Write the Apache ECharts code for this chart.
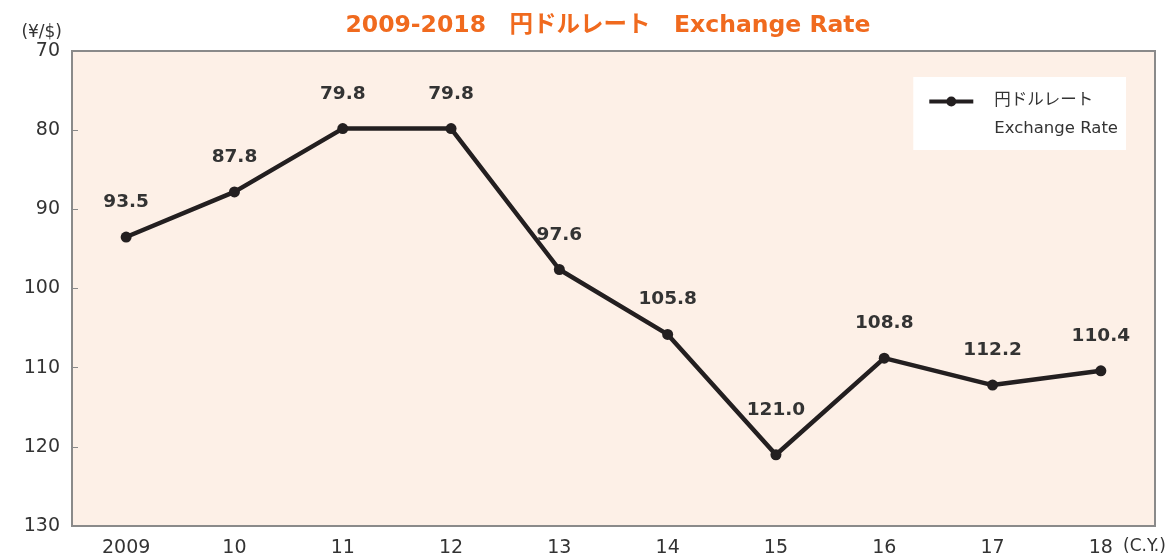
<!DOCTYPE html>
<html>
<head>
<meta charset="utf-8">
<script src="https://cdn.jsdelivr.net/npm/echarts@6/dist/echarts.min.js"></script>
<style>
  html, body { margin: 0; padding: 0; background: #fff; }
  #chart { width: 1175px; height: 560px; }
</style>
</head>
<body>
<div id="chart"></div>
<script>
  // yen per dollar, calendar year averages
  const years = ['2009', '10', '11', '12', '13', '14', '15', '16', '17', '18'];
  const rates = [93.5, 87.8, 79.8, 79.8, 97.6, 105.8, 121.0, 108.8, 112.2, 110.4];
  const yTicks = [70, 80, 90, 100, 110, 120, 130];

  const font = 'Verdana, "DejaVu Sans", "Noto Sans CJK JP", sans-serif';

  // legend marker: line + dot, drawn level with the first text line
  const legendIcon = 'path://M0,0.5 L17.5,0.5 L17.5,4.5 L0,4.5 Z M26.5,0.5 L44,0.5 L44,4.5 L26.5,4.5 Z '
    + 'M17,2.5 A5,5 0 1,1 27,2.5 A5,5 0 1,1 17,2.5 Z M0,34.5 L0.01,34.5 Z';

  const chart = echarts.init(document.getElementById('chart'));
  chart.setOption({
    animation: false,
    backgroundColor: '#ffffff',
    textStyle: { fontFamily: font },
    title: {
      text: '2009-2018　円ドルレート　Exchange Rate',
      left: 603,
      textAlign: 'center',
      top: 9,
      textStyle: { color: '#F06A1E', fontSize: 23.5, fontWeight: 'bold', fontFamily: font },
    },
    legend: {
      right: 49,
      top: 77,
      orient: 'vertical',
      backgroundColor: '#ffffff',
      padding: [10, 8, 7, 16],
      icon: legendIcon,
      itemWidth: 44,
      itemHeight: 37,
      itemGap: 0,
      textStyle: { color: '#333', fontSize: 16.5, lineHeight: 28, padding: [0, 0, 0, 16], fontFamily: font },
      data: [{ name: '円ドルレート\nExchange Rate' }],
    },
    grid: {
      left: 72,
      right: 20,
      top: 51,
      bottom: 34,
      outerBoundsMode: 'none',
      containLabel: false,
      show: true,
      backgroundColor: '#FDF0E7',
      borderColor: '#8a8a8a',
      borderWidth: 2,
    },
    xAxis: {
      type: 'category',
      data: years,
      boundaryGap: true,
      name: '(C.Y.)',
      nameLocation: 'end',
      nameGap: -32,
      nameTextStyle: { color: '#333', fontSize: 17, verticalAlign: 'top', padding: [12, 0, 0, 0] },
      axisLine: { show: false },
      axisTick: { show: false },
      axisLabel: { color: '#333', fontSize: 19, margin: 13 },
    },
    yAxis: {
      type: 'value',
      inverse: true,
      min: yTicks[0],
      max: yTicks[yTicks.length - 1],
      interval: 10,
      name: '(¥/$)',
      nameLocation: 'start',
      nameGap: 10,
      nameTextStyle: { color: '#333', fontSize: 17, align: 'right', padding: [0, 10, 0, 0] },
      axisLine: { show: false },
      axisTick: { show: true, inside: true, length: 6, lineStyle: { color: '#8a8a8a', width: 1 } },
      splitLine: { show: false },
      axisLabel: { color: '#333', fontSize: 19, margin: 12 },
    },
    series: [
      {
        name: '円ドルレート\nExchange Rate',
        type: 'line',
        data: rates,
        symbol: 'circle',
        symbolSize: 11,
        color: '#231F20',
        lineStyle: { color: '#231F20', width: 4.5 },
        itemStyle: { color: '#231F20' },
        label: {
          show: true,
          position: 'top',
          distance: 20,
          color: '#333',
          fontSize: 18.5,
          fontWeight: 'bold',
          formatter: (p) => p.value.toFixed(1),
        },
        // the low point's label sits a little higher in the original
        labelLayout: (p) => (p.dataIndex === 6 ? { dy: -10 } : {}),
      },
    ],
  });
</script>
</body>
</html>
